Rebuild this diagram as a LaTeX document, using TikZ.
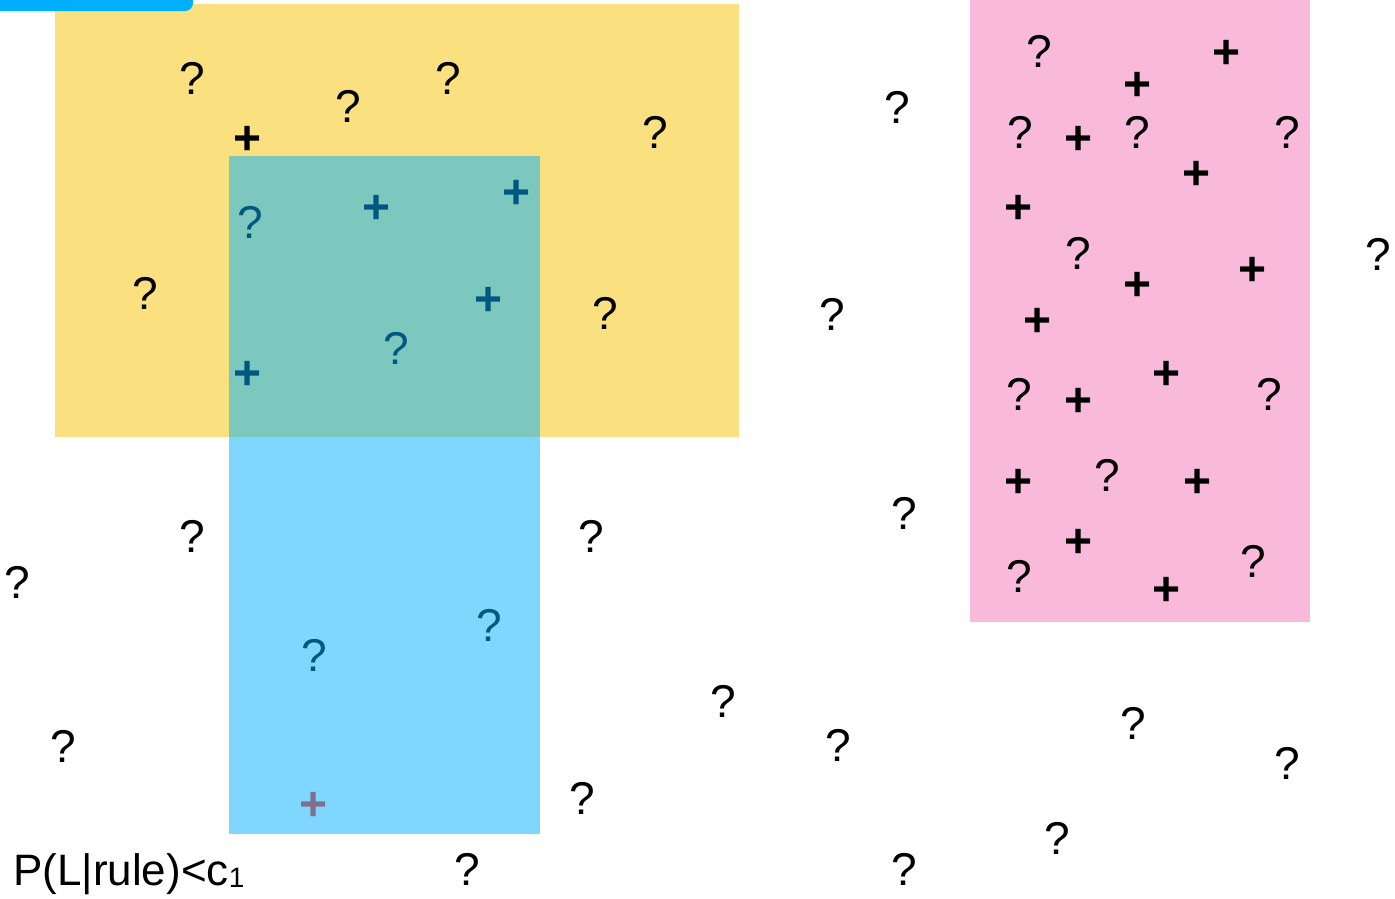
\documentclass[tikz,border=0pt]{standalone}
\usepackage{fontspec}
\setmainfont{Liberation Sans}
\definecolor{yel}{RGB}{250,224,126}
\definecolor{skyb}{RGB}{0,176,255}
\definecolor{pnk}{RGB}{248,185,218}
\definecolor{redp}{RGB}{255,48,25}
\begin{document}
\begin{tikzpicture}[x=1pt,y=-1pt,
  qm/.style={inner sep=0pt,font=\fontsize{46}{50}\selectfont},
  pl/.style={inner sep=0pt,font=\fontsize{48}{50}\selectfont\bfseries},
  lab/.style={inner sep=0pt,font=\fontsize{44}{50}\selectfont}]
\useasboundingbox (0,0) rectangle (1395,898);
\fill[white] (0,0) rectangle (1395,898);
\fill[yel] (55,4) rectangle (739,437);
\fill[skyb] (0,0) -- (193,0) [rounded corners=8pt] -- (193,11) [sharp corners] -- (0,11) -- cycle;
\fill[pnk] (970,0) rectangle (1310,622);
% question marks
\foreach \x/\y [count=\i] in {
 192/78, 348/106, 448/78, 655/132, 897/107, 145/293, 605/313, 832/314,
 1039/51, 1020/132, 1137/132, 1287/132, 1378/254, 1078/253, 1019/394,
 1269/394, 1107/475, 1019/576, 1253/561, 904/513, 192/536, 591/536,
 17/582, 723/701, 838/745, 63/746, 1133/723, 1287/763, 582/798,
 1057/838, 467/869, 904/869, 250/222, 396/348, 314/655, 489/625}
 \node[qm] (q\i) at (\x,\y) {?};
% plus signs
\foreach \x/\y [count=\i] in {
 248/137, 1227/51, 1138/83, 1079/137, 1197/172, 1019/206, 1138/283,
 1253/268, 1038/319, 1167/372, 1079/399, 1019/480, 1198/480, 1079/540,
 1167/588, 377/206, 517/191, 489/298, 248/372}
 \node[pl,yshift=-3pt] (p\i) at (\x,\y) {+};
\node[pl,yshift=-3pt,text=redp] (p20) at (314,803) {+};
\node[lab,anchor=base west] (lab) at (13,885) {P(L|rule)<c\raisebox{-2pt}{\fontsize{28}{30}\selectfont 1}};
\fill[skyb,opacity=0.5] (229,156) rectangle (540,834);
\end{tikzpicture}
\end{document}
